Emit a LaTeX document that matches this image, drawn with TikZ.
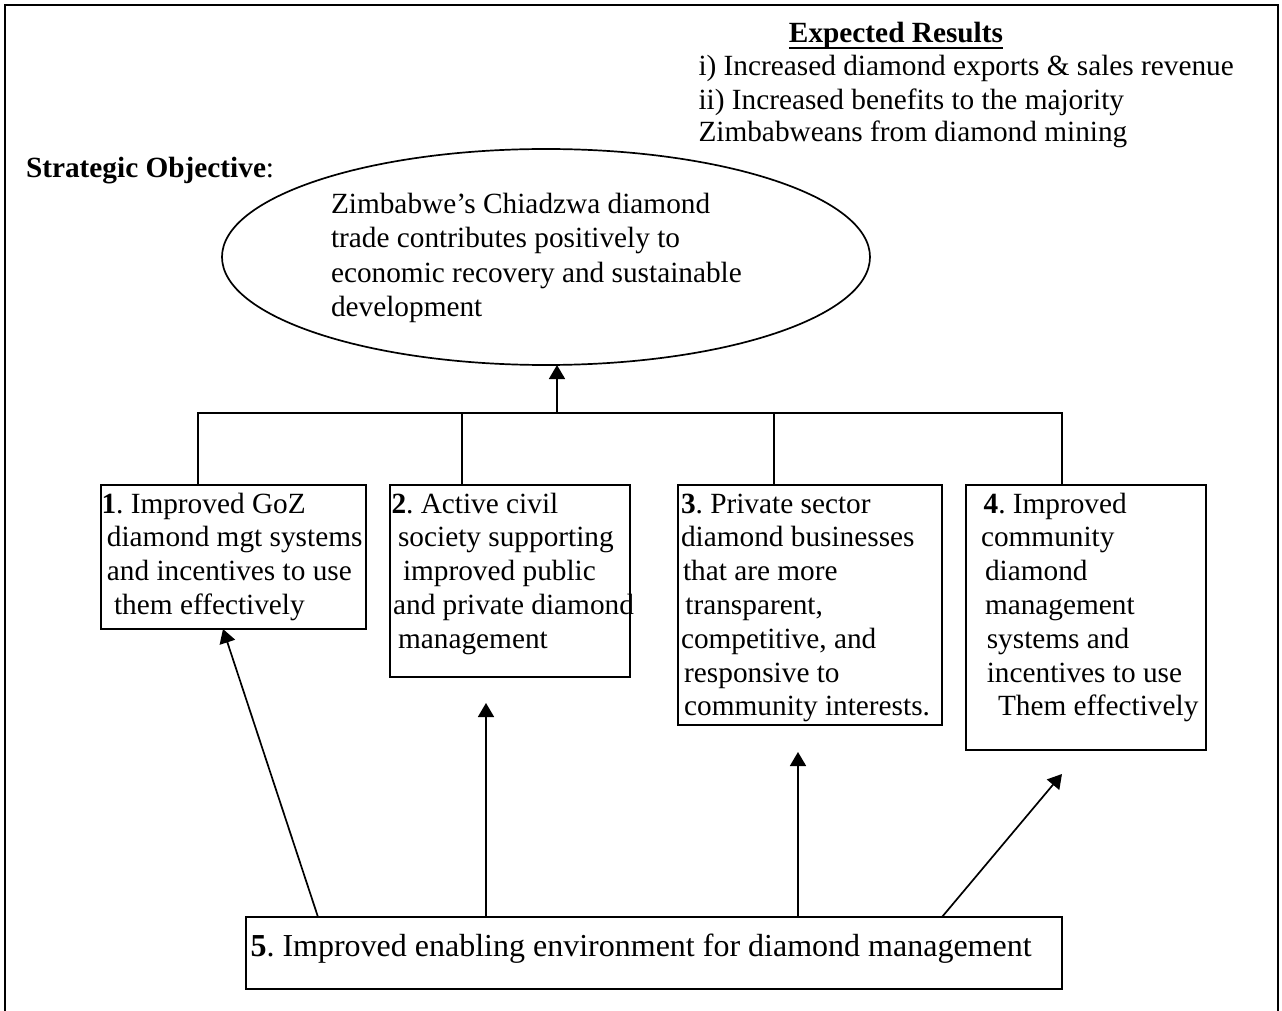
\documentclass[tikz,border=0pt]{standalone}
\usepackage{fontspec}
\setmainfont{Liberation Serif}
\frenchspacing
\usetikzlibrary{arrows.meta,shapes.geometric}
\begin{document}
\begin{tikzpicture}[x=0.5pt,y=-0.5pt,
  every node/.style={inner sep=0pt, outer sep=0pt},
  txt/.style={font=\fontsize{14.65}{16.9}\selectfont\frenchspacing, align=left, anchor=north west},
  boxnode/.style={draw, line width=0.85pt, anchor=north west, rectangle},
  conn/.style={line width=0.85pt},
  arr/.style={line width=0.85pt, -{Triangle[length=7pt,width=8pt]}}
]
\useasboundingbox (0,0) rectangle (1282,1011);
% outer frame
\draw[line width=0.9pt] (5,1011) -- (5,5) -- (1278,5) -- (1278,1011);

% expected results
\node[font=\fontsize{14.65}{16.5}\selectfont\bfseries, anchor=base] (er) at (896,43) {Expected Results};
\draw[line width=1pt] ([yshift=-2.7pt]er.base west) -- ([yshift=-2.7pt]er.base east);
\node[txt, font=\fontsize{14.65}{16.5}\selectfont\frenchspacing] (erl) at (698.5,52.9)
  {\strut i) Increased diamond exports \& sales revenue\\ii) Increased benefits to the majority\\Zimbabweans from diamond mining};

% strategic objective
\node[font=\fontsize{14.65}{16.9}\selectfont, anchor=base west] (so) at (26,178) {\textbf{Strategic Objective}:};
\node[draw, ellipse, line width=0.85pt, minimum width=324pt, minimum height=108pt] (obj) at (546,257) {};
\node[txt, font=\fontsize{14.65}{17.3}\selectfont\frenchspacing] (objt) at (331,188.8)
  {\strut Zimbabwe’s Chiadzwa diamond\\trade contributes positively to\\economic recovery and sustainable\\development};

% boxes
\node[boxnode, minimum width=132.5pt, minimum height=72pt] (b1) at (101,485) {};
\node[boxnode, minimum width=120pt, minimum height=96pt] (b2) at (390,485) {};
\node[boxnode, minimum width=132pt, minimum height=120pt] (b3) at (678,485) {};
\node[boxnode, minimum width=120pt, minimum height=132.5pt] (b4) at (966,485) {};
\node[boxnode, minimum width=408pt, minimum height=36pt] (b5) at (246,917) {};

\node[txt] (t1) at (101.5,489.4)
  {\strut\textbf{1}. Improved GoZ\\\hspace*{2.7pt}diamond mgt systems\\\hspace*{2.7pt}and incentives to use\\\hspace*{6.3pt}them effectively};
\node[txt] (t2) at (391.5,489.4)
  {\strut\textbf{2}. Active civil\\\hspace*{3.3pt}society supporting\\\hspace*{5.75pt}improved public\\\hspace*{0.8pt}and private diamond\\\hspace*{3.3pt}management};
\node[txt] (t3) at (681,489.4)
  {\strut\textbf{3}. Private sector\\diamond businesses\\\hspace*{1pt}that are more\\\hspace*{2.2pt}transparent,\\competitive, and\\\hspace*{1.6pt}responsive to\\\hspace*{1.6pt}community interests.};
\node[txt] (t4) at (981,489.4)
  {\strut\hspace*{1.3pt}\textbf{4}. Improved\\community\\\hspace*{2pt}diamond\\\hspace*{2pt}management\\\hspace*{2.9pt}systems and\\\hspace*{2.9pt}incentives to use\\\hspace*{8.5pt}Them effectively};
\node[font=\fontsize{16}{19}\selectfont\frenchspacing, anchor=base west] (t5) at (250.5,956)
  {\textbf{5}. Improved enabling environment for diamond management};

% tree connectors
\coordinate (d1) at (198,413);
\coordinate (d2) at (462,413);
\coordinate (d3) at (774,413);
\coordinate (d4) at (1062,413);
\coordinate (hub) at (557,413);
\draw[conn] (d1 |- b1.north) -- (d1) -- (d4) -- (d4 |- b4.north);
\draw[conn] (d2) -- (d2 |- b2.north);
\draw[conn] (d3) -- (d3 |- b3.north);
\draw[arr] (hub) -- (hub |- obj.south);

% arrows from box 5
\coordinate (a1) at (318,0);
\coordinate (a1t) at (223,0);
\coordinate (p2) at (486,703);
\coordinate (p3) at (798,752);
\coordinate (a4) at (942,0);
\coordinate (p4) at (1062,774);
\draw[arr] (b5.north -| a1) -- (b1.south -| a1t);
\draw[arr] (b5.north -| p2) -- (p2);
\draw[arr] (b5.north -| p3) -- (p3);
\draw[arr] (b5.north -| a4) -- (p4);
\end{tikzpicture}
\end{document}
